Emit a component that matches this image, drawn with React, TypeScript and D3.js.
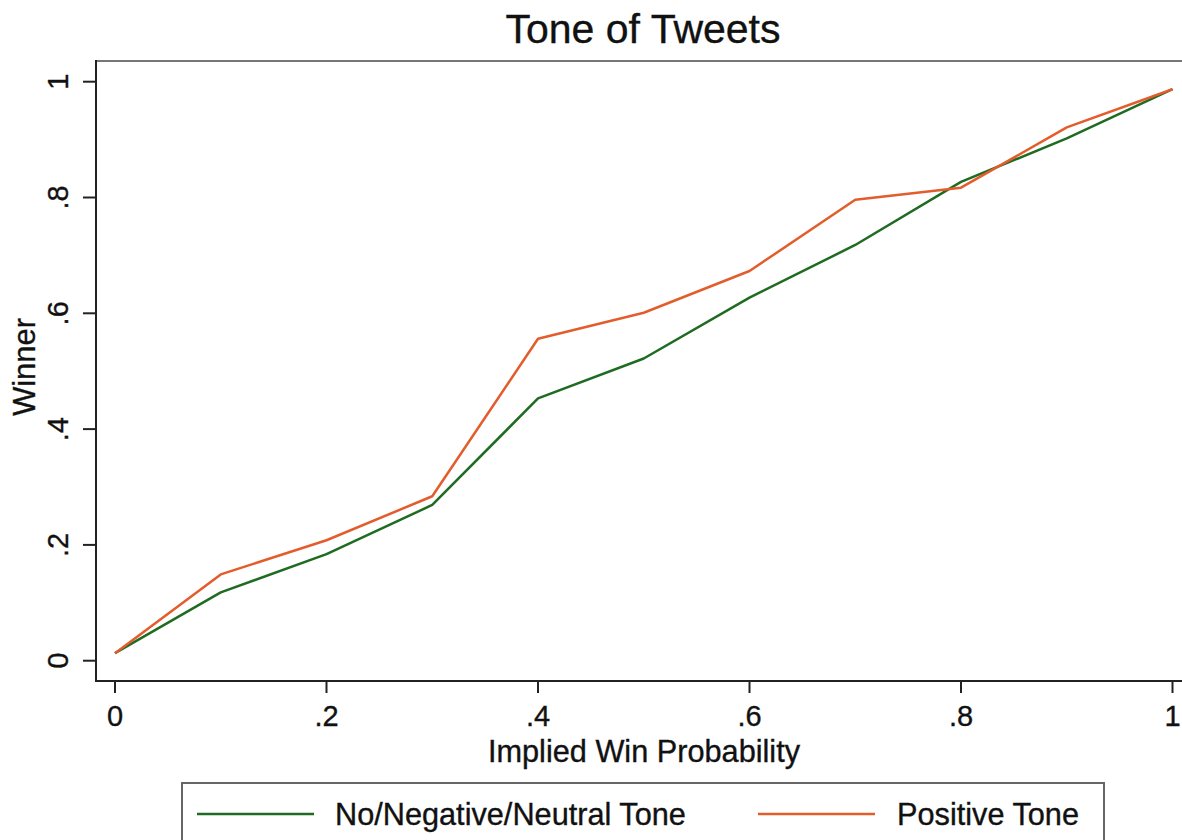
import React from "react";
import * as d3 from "d3";

const xValues = [0, 0.1, 0.2, 0.3, 0.4, 0.5, 0.6, 0.7, 0.8, 0.9, 1.0];
const neutralTone = [0.013, 0.118, 0.184, 0.269, 0.453, 0.522, 0.627, 0.718, 0.827, 0.902, 0.987];
const positiveTone = [0.013, 0.149, 0.208, 0.284, 0.556, 0.601, 0.673, 0.796, 0.817, 0.921, 0.987];
const xTicks = [0, 0.2, 0.4, 0.6, 0.8, 1];
const yTicks = [0, 0.2, 0.4, 0.6, 0.8, 1];
const seriesNames = ["No/Negative/Neutral Tone", "Positive Tone"];
const seriesColors = ["#1f6b22", "#e35d2c"];

const fmt = (v: number) => (v === 0 ? "0" : v === 1 ? "1" : String(v).replace(/^0/, ""));

export default function App() {
  const W = 1182;
  const H = 840;
  const plotLeft = 96;
  const plotTop = 61;
  const plotBottom = 681;
  const plotRight = 1192;
  const x = d3.scaleLinear().domain([0, 1]).range([115, 1172.5]);
  const y = d3.scaleLinear().domain([0, 1]).range([660.7, 81.7]);
  const font = "'Liberation Sans', Arial, Helvetica, sans-serif";
  const textStyle = { stroke: "#111", strokeWidth: 0.35 } as React.CSSProperties;

  const line = d3
    .line<number>()
    .x((_, i) => x(xValues[i]))
    .y((d) => y(d));

  const series = [neutralTone, positiveTone];

  return (
    <svg
      width={W}
      height={H}
      style={{ position: "absolute", left: 0, top: 0, display: "block", background: "#fff" }}
      fontFamily={font}
    >
      <rect x={0} y={0} width={W} height={H} fill="#fff" />
      {/* title */}
      <text x={643} y={43} fontSize={41} textAnchor="middle" fill="#111" style={textStyle}>
        Tone of Tweets
      </text>
      {/* plot region border */}
      <line x1={plotLeft} x2={plotRight} y1={plotTop} y2={plotTop} stroke="#777" strokeWidth={2} />
      <line x1={plotRight} x2={plotRight} y1={plotTop} y2={plotBottom} stroke="#777" strokeWidth={2} />
      {/* axes */}
      <line x1={plotLeft} x2={plotLeft} y1={plotTop - 1} y2={plotBottom + 1} stroke="#222" strokeWidth={2} />
      <line x1={plotLeft - 1} x2={plotRight} y1={plotBottom} y2={plotBottom} stroke="#222" strokeWidth={2} />
      {/* y ticks */}
      {yTicks.map((t) => (
        <g key={"y" + t}>
          <line x1={plotLeft - 13} x2={plotLeft} y1={y(t)} y2={y(t)} stroke="#222" strokeWidth={2} />
          <text
            transform={`translate(68,${y(t)}) rotate(-90)`}
            textAnchor="middle"
            fontSize={29}
            fill="#111"
            style={textStyle}
          >
            {fmt(t)}
          </text>
        </g>
      ))}
      {/* x ticks */}
      {xTicks.map((t) => (
        <g key={"x" + t}>
          <line x1={x(t)} x2={x(t)} y1={plotBottom} y2={plotBottom + 12} stroke="#222" strokeWidth={2} />
          <text x={x(t)} y={726} textAnchor="middle" fontSize={29} fill="#111" style={textStyle}>
            {fmt(t)}
          </text>
        </g>
      ))}
      {/* axis titles */}
      <text x={644} y={762} textAnchor="middle" fontSize={30.7} fill="#111" style={textStyle}>
        Implied Win Probability
      </text>
      <text
        transform={`translate(35,367) rotate(-90)`}
        textAnchor="middle"
        fontSize={31}
        fill="#111"
        style={textStyle}
      >
        Winner
      </text>
      {/* series */}
      {series.map((s, i) => (
        <path key={i} d={line(s) || ""} fill="none" stroke={seriesColors[i]} strokeWidth={2.5} strokeLinejoin="round" />
      ))}
      {/* legend */}
      <rect x={182} y={783} width={922} height={80} fill="#fff" stroke="#666" strokeWidth={2} />
      <line x1={197} x2={314} y1={814} y2={814} stroke={seriesColors[0]} strokeWidth={2.5} />
      <text x={335} y={825} fontSize={30.7} fill="#111" style={textStyle}>
        {seriesNames[0]}
      </text>
      <line x1={758} x2={875} y1={814} y2={814} stroke={seriesColors[1]} strokeWidth={2.5} />
      <text x={897} y={825} fontSize={30.7} fill="#111" style={textStyle}>
        {seriesNames[1]}
      </text>
    </svg>
  );
}
